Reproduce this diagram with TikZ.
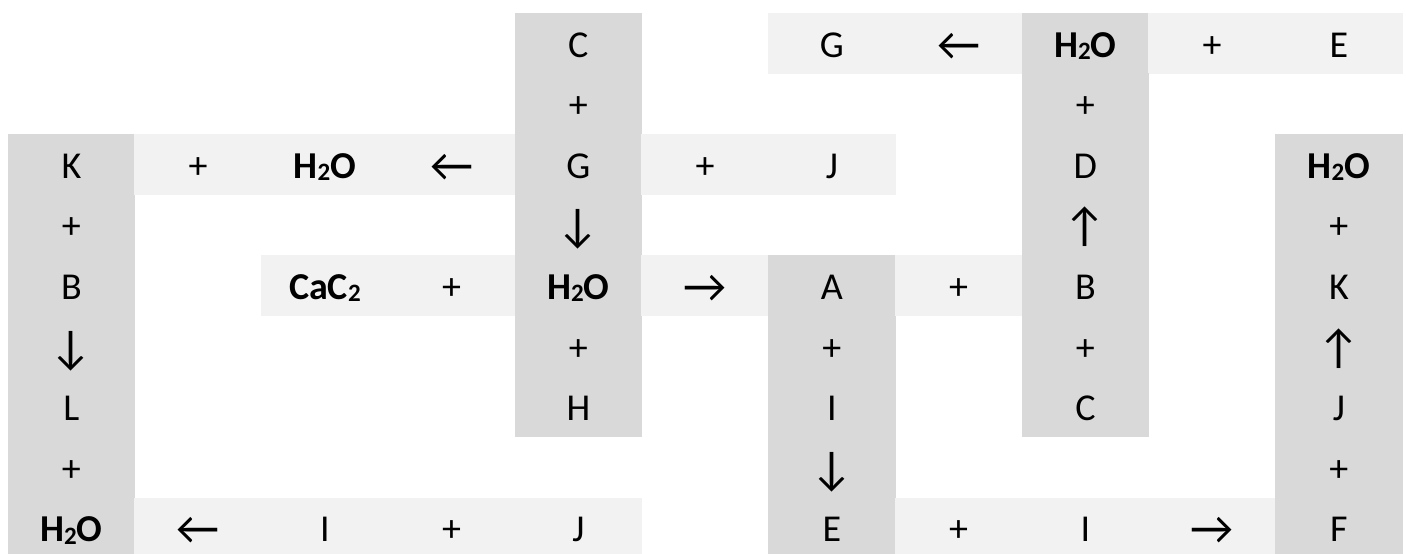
\documentclass[tikz,border=0pt]{standalone}
\usepackage{fontspec}
\setmainfont{Carlito}
\definecolor{lightcell}{HTML}{F2F2F2}
\definecolor{darkcell}{HTML}{D9D9D9}
\newcommand{\mysub}[1]{\raisebox{-0.06em}{\fontsize{25}{25}\selectfont #1}}
\newcommand{\water}{\textbf{H\mysub{2}O}}
\newcommand{\carb}{\textbf{CaC\mysub{2}}}
\newcommand{\myarrow}[1]{\raisebox{-3pt}{\scalebox{1.25}{#1}}}
\tikzset{
  cellbase/.style={minimum width=127.3pt, minimum height=61.1pt, inner sep=0pt, outer sep=0pt,
    text height=30pt, text depth=2.6pt, font=\fontsize{38}{40}\selectfont},
  lt/.style={cellbase, fill=lightcell},
  dk/.style={cellbase, fill=darkcell}
}
\begin{document}
\begin{tikzpicture}[x=1pt,y=-1pt]
\useasboundingbox (0,0) rectangle (1406,554);
\clip (0,0) rectangle (1406,554);
\foreach \c/\r/\s/\t in {
  5/1/dk/C, 7/1/lt/G, 8/1/lt/\myarrow{←}, 9/1/dk/\water, 10/1/lt/+, 11/1/lt/E,
  5/2/dk/+, 9/2/dk/+,
  1/3/dk/K, 2/3/lt/+, 3/3/lt/\water, 4/3/lt/\myarrow{←}, 5/3/dk/G, 6/3/lt/+, 7/3/lt/J, 9/3/dk/D, 11/3/dk/\water,
  1/4/dk/+, 5/4/dk/\myarrow{↓}, 9/4/dk/\myarrow{↑}, 11/4/dk/+,
  1/5/dk/B, 3/5/lt/\carb, 4/5/lt/+, 5/5/dk/\water, 6/5/lt/\myarrow{→}, 7/5/dk/A, 8/5/lt/+, 9/5/dk/B, 11/5/dk/K,
  1/6/dk/\myarrow{↓}, 5/6/dk/+, 7/6/dk/+, 9/6/dk/+, 11/6/dk/\myarrow{↑},
  1/7/dk/L, 5/7/dk/H, 7/7/dk/I, 9/7/dk/C, 11/7/dk/J,
  1/8/dk/+, 7/8/dk/\myarrow{↓}, 11/8/dk/+,
  1/9/dk/\water, 2/9/lt/\myarrow{←}, 3/9/lt/I, 4/9/lt/+, 5/9/lt/J, 7/9/dk/E, 8/9/lt/+, 9/9/lt/I, 10/9/lt/\myarrow{→}, 11/9/dk/F}
{
  \node[\s] (cell-\c-\r) at ({8+(\c-0.5)*126.75}, {13+(\r-0.5)*60.6}) {\t};
}
\end{tikzpicture}
\end{document}
